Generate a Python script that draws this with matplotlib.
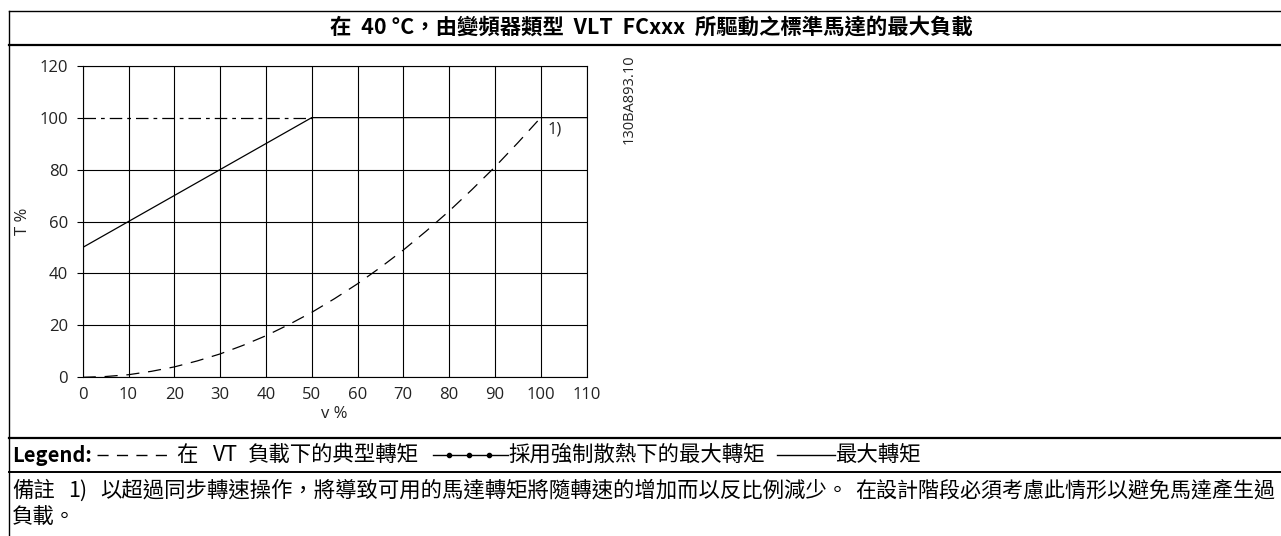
import matplotlib
matplotlib.use("Agg")
import matplotlib.pyplot as plt
from matplotlib.lines import Line2D

# Data
speed_pct = [0, 5, 10, 15, 20, 25, 30, 35, 40, 45, 50,
             55, 60, 65, 70, 75, 80, 85, 90, 95, 100]
vt_torque = [0, 0.3, 1, 2.3, 4, 6.3, 9, 12.3, 16, 20.3, 25,
             30.3, 36, 42.3, 49, 56.3, 64, 72.3, 81, 90.3, 100]
max_speed = [0, 50, 110]
max_torque = [50, 100, 100]
forced_speed = [0, 50]
forced_torque = [100, 100]

x_ticks = list(range(0, 111, 10))
y_ticks = list(range(0, 121, 20))

title = "在  40 °C，由變頻器類型  VLT  FCxxx  所驅動之標準馬達的最大負載"
legend_vt = ["在", "VT", "負載下的典型轉矩"]
legend_forced = "採用強制散熱下的最大轉矩"
legend_max = "最大轉矩"
note_parts = ["備註", "1)", "以超過同步轉速操作，將導致可用的馬達轉矩將隨轉速的增加而以反比例減少。",
              "在設計階段必須考慮此情形以避免馬達產生過"]
note_line2 = "負載。"

W, H = 1281, 536
CJK = ["Noto Sans CJK TC", "DejaVu Sans"]
FS = 15.4  # one CJK glyph ~ 21 px


def fx(px):
    return px / W


def fy(py):
    return 1 - py / H


def hline(fig, x0, x1, y, **kw):
    fig.add_artist(Line2D([fx(x0), fx(x1)], [fy(y), fy(y)], color="black", **kw))


fig = plt.figure(figsize=(W / 100, H / 100), dpi=100)

# table frame lines (pixel positions measured on the reference)
hline(fig, 9, W, 10.5, lw=1.0)
hline(fig, 9, W, 44.5, lw=1.6)
hline(fig, 9, W, 437.5, lw=1.6)
hline(fig, 9, W, 472, lw=1.4)
fig.add_artist(Line2D([fx(9), fx(9)], [fy(10.5), 0], color="black", lw=1.0))

fig.text(fx(651), fy(27.5), title, family=CJK, fontsize=FS,
         fontweight="bold", ha="center", va="center")

# chart
ax = fig.add_axes([fx(82.7), fy(377.3), fx(586.5) - fx(82.7), fy(65.7) - fy(377.3)])
ax.set_xlim(0, 110)
ax.set_ylim(0, 120)
ax.set_xticks(x_ticks)
ax.set_yticks(y_ticks)
ax.grid(True, axis="x", color="black", lw=0.8)
# horizontal grid, the 100 % line is drawn by the curves themselves
ax.hlines([v for v in y_ticks if v != 100], 0, 110, color="black", lw=0.8)

ax.plot(max_speed, max_torque, color="black", lw=0.9)
ax.plot(forced_speed, forced_torque, color="black", lw=0.9,
        dashes=(10, 4, 3, 4))
ax.plot(speed_pct, vt_torque, color="black", lw=0.9, dashes=(10.5, 7))

for s in ax.spines.values():
    s.set_linewidth(0.8)
ax.tick_params(axis="y", length=4.5, width=0.8, pad=6)
ax.tick_params(axis="x", length=0, pad=7)
for lab in ax.get_xticklabels() + ax.get_yticklabels():
    lab.set_family("Open Sans")
    lab.set_fontsize(12)
    lab.set_color("#222222")
ax.set_xlabel("v %", family="Open Sans", fontsize=12, labelpad=2, color="#222222")
ax.set_ylabel("T %", family="Open Sans", fontsize=12, labelpad=6, color="#222222")
ax.text(101.5, 95.5, "1)", family="Open Sans", fontsize=12, va="center",
        color="#222222")

fig.text(fx(629), fy(99), "130BA893.10", family="Open Sans", fontsize=10.5,
         rotation=90, ha="center", va="center", color="#222222")

# legend row
ly = 455
fig.text(fx(12), fy(ly), "Legend:", family=CJK, fontsize=14.5,
         fontweight="bold", ha="left", va="center")
fig.add_artist(Line2D([fx(97), fx(172)], [fy(ly), fy(ly)], color="black",
                      lw=1.0, dashes=(8, 6)))
fig.text(fx(176), fy(ly), legend_vt[0], family=CJK, fontsize=FS,
         ha="left", va="center")
fig.text(fx(225), fy(ly), legend_vt[1], family=CJK, fontsize=FS,
         ha="center", va="center")
fig.text(fx(419), fy(ly), legend_vt[2], family=CJK, fontsize=FS,
         ha="right", va="center")
fig.add_artist(Line2D([fx(433), fx(508)], [fy(ly), fy(ly)], color="black", lw=1.0))
fig.add_artist(Line2D([fx(449), fx(469), fx(489)], [fy(ly)] * 3, color="black",
                      lw=0, marker="o", markersize=3))
fig.text(fx(508), fy(ly), legend_forced, family=CJK, fontsize=FS,
         ha="left", va="center")
fig.add_artist(Line2D([fx(777), fx(835)], [fy(ly), fy(ly)], color="black", lw=1.0))
fig.text(fx(835), fy(ly), legend_max, family=CJK, fontsize=FS,
         ha="left", va="center")

# note rows
for x, part, fs in zip([12, 68, 100, 855], note_parts, [FS, FS, FS, 15.1]):
    fig.text(fx(x), fy(491), part, family=CJK, fontsize=fs, ha="left", va="center")
fig.text(fx(12), fy(517), note_line2, family=CJK, fontsize=FS,
         ha="left", va="center")

fig.savefig("out.png", dpi=100)
